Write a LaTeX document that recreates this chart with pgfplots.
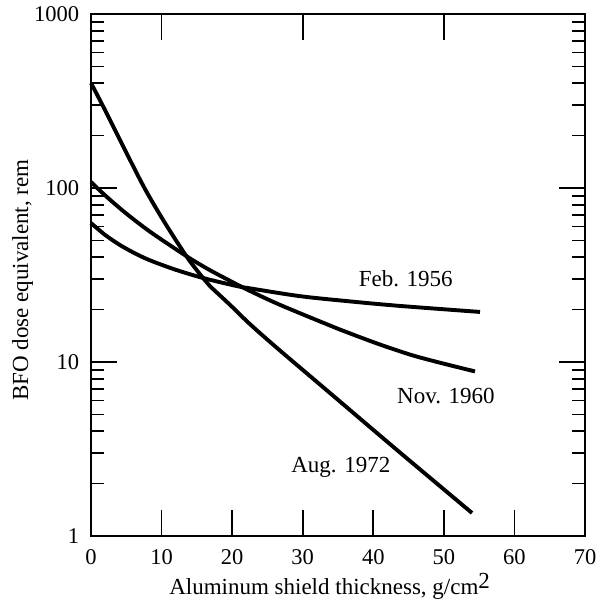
\documentclass[border=0pt]{standalone}
\usepackage{fontspec}
\setmainfont{Liberation Serif}
\usepackage{pgfplots}
\pgfplotsset{compat=1.18}
\usetikzlibrary{calc}
\begin{document}
\fontsize{23bp}{27bp}\selectfont
\begin{tikzpicture}
\begin{semilogyaxis}[name=ax,
  scale only axis, width=494bp, height=522bp,
  xmin=0, xmax=70, ymin=1, ymax=1000,
  xtick={10,30,50}, xticklabels={10,30,50},
  xtick pos=both,
  extra x ticks={0,20,40,60,70}, extra x tick labels={0,20,40,60,70},
  extra x tick style={xtick pos=left},
  ytick={1,10,100,1000}, yticklabels={1,10,100,1000},
  minor ytick={2,3,...,9,20,30,...,90,200,300,...,900},
  ytick pos=both,
  tick align=inside,
  major tick length=26bp, minor tick length=13bp,
  every tick/.style={line width=1.6bp, black},
  axis line style={line width=2.6bp},
  /pgf/number format/assume math mode=true,
  tick label style={font=\fontsize{22.5bp}{26bp}\selectfont},
  x tick label style={yshift=-6bp},
  y tick label style={xshift=-4bp},
  xlabel={Aluminum shield thickness, g/cm\raisebox{0.6ex}{2}},
  xlabel style={at={(axis description cs:0.483,-0.113)}, anchor=base},
  ylabel={BFO dose equivalent, rem},
  ylabel style={at={(axis description cs:-0.1275,0.49)}, anchor=base},
  clip=false,
]
% Aug. 1972
\addplot[black, line width=3.9bp, smooth, tension=0.5] coordinates {
  (0,401) (1.984,280.7) (4.818,165.4) (7.652,98.7) (10.487,62.9)
  (13.60,40.1) (15.87,30.4) (16.86,27.3) (19.70,21.3) (22.53,16.5)
  (26.50,11.9) (33.87,6.63) (43.36,3.12) (53.99,1.356)
};
% Nov. 1960
\addplot[black, line width=3.9bp, smooth, tension=0.5] coordinates {
  (0,108.3) (1.984,90.8) (4.818,72.3) (8.36,56.1) (13.60,40.4)
  (16.86,33.7) (20.69,27.9) (22.53,25.6) (26.78,21.3) (33.87,16.2)
  (36.70,14.6) (40.95,12.6) (45.63,10.9) (50.16,9.74) (54.41,8.83)
};
% Feb. 1956
\addplot[black, line width=3.9bp, smooth, tension=0.5] coordinates {
  (0,62.9) (1.984,53.8) (4.109,47.0) (6.235,42.1) (8.36,38.4)
  (11.90,34.0) (15.87,30.4) (20.69,27.3) (22.53,26.5) (29.62,23.9)
  (36.70,22.3) (43.79,21.0) (55.12,19.4)
};
\node[anchor=base] at (axis cs:44.6,27.0) {Feb. 1956};
\node[anchor=base] at (axis cs:50.3,5.81) {Nov. 1960};
\node[anchor=base] at (axis cs:35.4,2.33) {Aug. 1972};
\end{semilogyaxis}
\pgfresetboundingbox
\path[use as bounding box] ($(ax.south west)+(-91bp,-69bp)$) rectangle ($(ax.north east)+(12bp,14bp)$);
\end{tikzpicture}
\end{document}
